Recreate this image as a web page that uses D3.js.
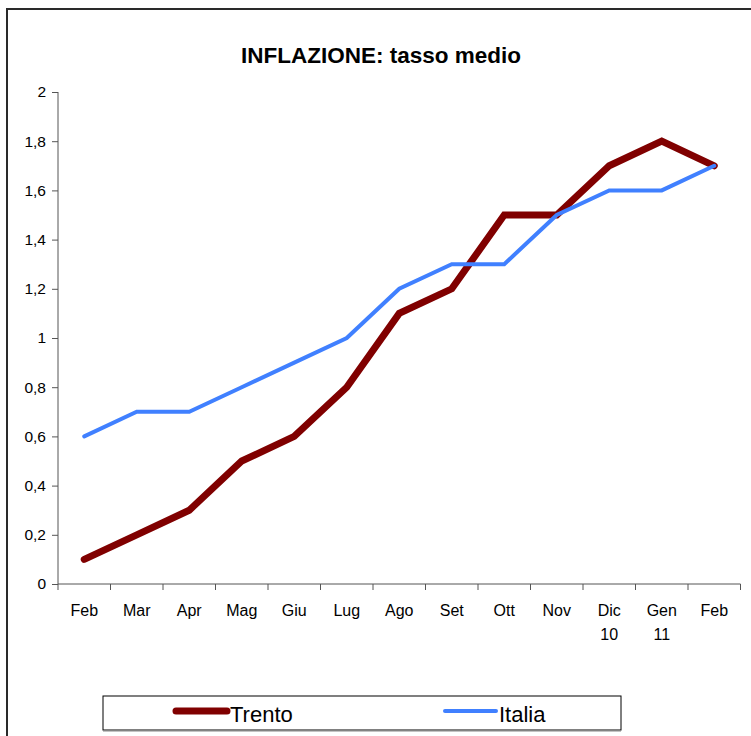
<!DOCTYPE html>
<html><head><meta charset="utf-8">
<script src="https://cdn.jsdelivr.net/npm/d3@7"></script>
<style>body{margin:0;background:#fff}svg{display:block}text{font-family:"Liberation Sans",Arial,sans-serif}</style>
</head><body>
<script>
const categories = ["Feb","Mar","Apr","Mag","Giu","Lug","Ago","Set","Ott","Nov","Dic\n10","Gen\n11","Feb "];
const trento = [0.1,0.2,0.3,0.5,0.6,0.8,1.1,1.2,1.5,1.5,1.7,1.8,1.7];
const italia = [0.6,0.7,0.7,0.8,0.9,1.0,1.2,1.3,1.3,1.5,1.6,1.6,1.7];
const yTicks = [0,0.2,0.4,0.6,0.8,1,1.2,1.4,1.6,1.8,2];
const seriesNames = ["Trento","Italia"];

const W=751,H=736;
const svg=d3.select("body").append("svg").attr("width",W).attr("height",H);
svg.append("rect").attr("x",7).attr("y",9).attr("width",W+10).attr("height",H+10)
  .attr("fill","#fff").attr("stroke","#2a2a2a").attr("stroke-width",2);

svg.append("text").attr("x",381).attr("y",63).attr("text-anchor","middle")
  .attr("font-size",22.5).attr("font-weight","bold").text("INFLAZIONE: tasso medio");

const x=d3.scaleBand().domain(d3.range(categories.length)).range([58,740.5]);
const y=d3.scaleLinear().domain([0,2]).range([584,92]);

// y axis
const ya=svg.append("g").attr("transform","translate(58,0)")
  .call(d3.axisLeft(y).tickValues(yTicks).tickSize(6).tickPadding(6)
    .tickFormat(d=>String(d).replace(".",",")));
ya.select(".domain").attr("stroke","#555").attr("d","M0,"+y(2)+"V"+y(0));
ya.selectAll(".tick line").attr("stroke","#555");
ya.selectAll("text").attr("font-size",15.5).attr("fill","#000");

// x axis
const xa=svg.append("g").attr("transform","translate(0,584)");
xa.append("line").attr("x1",58).attr("x2",740.5).attr("stroke","#555");
const bounds=d3.range(categories.length+1).map(i=>i<categories.length?x(i):x.range()[1]);
xa.selectAll("line.tk").data(bounds).join("line").attr("class","tk")
  .attr("x1",d=>d).attr("x2",d=>d).attr("y1",0).attr("y2",6).attr("stroke","#555");
const lbl=xa.selectAll("text.lb").data(categories).join("text").attr("class","lb")
  .attr("text-anchor","middle").attr("font-size",16)
  .attr("transform",(d,i)=>`translate(${x(i)+x.bandwidth()/2},32)`);
lbl.each(function(d){
  const parts=d.trim().split("\n");
  d3.select(this).selectAll("tspan").data(parts).join("tspan")
    .attr("x",0).attr("dy",(p,j)=>j?24:0).text(p=>p);
});

const line=d3.line().x((d,i)=>x(i)+x.bandwidth()/2).y(d=>y(d));
svg.append("path").datum(trento).attr("d",line).attr("fill","none")
  .attr("stroke","#800000").attr("stroke-width",7).attr("stroke-linejoin","miter").attr("stroke-linecap","round");
svg.append("path").datum(italia).attr("d",line).attr("fill","none")
  .attr("stroke","#4080ff").attr("stroke-width",4).attr("stroke-linecap","round");

// legend
const lg=svg.append("g");
lg.append("rect").attr("x",103).attr("y",696).attr("width",518).attr("height",34)
  .attr("fill","#fff").attr("stroke","#000").attr("stroke-width",1);
lg.append("line").attr("x1",103).attr("x2",621).attr("y1",731).attr("y2",731).attr("stroke","#888").attr("stroke-width",1);
const lcol=["#800000","#4080ff"], lw=[7,4], lx=[176,445];
seriesNames.forEach((n,i)=>{
  lg.append("line").attr("x1",lx[i]).attr("x2",lx[i]+51).attr("y1",711).attr("y2",711)
    .attr("stroke",lcol[i]).attr("stroke-width",lw[i]).attr("stroke-linecap","round");
  lg.append("text").attr("x",lx[i]+54).attr("y",722).attr("font-size",22).text(n);
});
</script>
</body></html>
